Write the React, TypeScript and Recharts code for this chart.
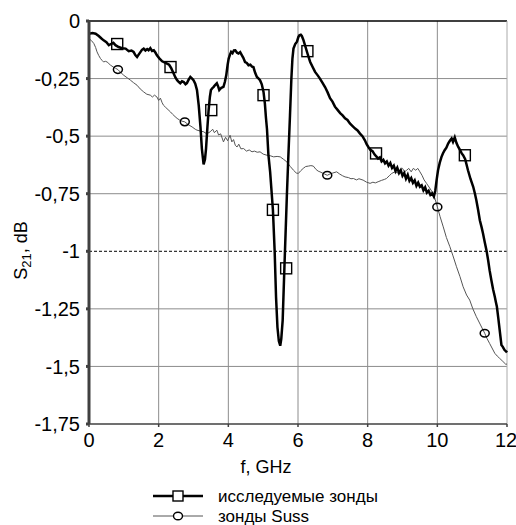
import React from 'react';
import { ComposedChart, Line, Scatter, XAxis, YAxis, ReferenceLine, Legend } from 'recharts';

// thick curve — исследуемые зонды
const freqA = [
  0.0, 0.1, 0.19, 0.28, 0.35, 0.42, 0.5, 0.57, 0.63, 0.7, 0.76, 0.85, 0.95, 1.05, 1.14, 1.22, 1.28, 1.33, 1.38, 1.43,
  1.48, 1.52, 1.57, 1.62, 1.67, 1.71, 1.76, 1.81, 1.86, 1.91, 1.95, 2.02, 2.1, 2.17, 2.24, 2.3, 2.36, 2.43, 2.48, 2.53,
  2.58, 2.62, 2.67, 2.72, 2.77, 2.81, 2.86, 2.91, 2.96, 3.0, 3.05, 3.1, 3.15, 3.2, 3.24, 3.29, 3.33, 3.36, 3.4, 3.43,
  3.47, 3.5, 3.55, 3.58, 3.62, 3.67, 3.71, 3.74, 3.8, 3.86, 3.9, 3.94, 3.98, 4.01, 4.05, 4.08, 4.12, 4.16, 4.2, 4.25,
  4.29, 4.34, 4.39, 4.43, 4.48, 4.53, 4.58, 4.63, 4.68, 4.72, 4.77, 4.82, 4.87, 4.91, 4.96, 5.01, 5.05, 5.08, 5.11, 5.15,
  5.2, 5.28, 5.33, 5.37, 5.41, 5.45, 5.49, 5.52, 5.56, 5.61, 5.68, 5.72, 5.77, 5.81, 5.84, 5.87, 5.92, 5.97, 6.01, 6.04,
  6.08, 6.11, 6.15, 6.2, 6.27, 6.35, 6.42, 6.49, 6.56, 6.63, 6.7, 6.78, 6.85, 6.92, 6.99, 7.06, 7.13, 7.21, 7.28, 7.35,
  7.42, 7.49, 7.56, 7.64, 7.71, 7.78, 7.85, 7.92, 7.97, 8.02, 8.08, 8.14, 8.2, 8.26, 8.3, 8.35, 8.4, 8.45, 8.5, 8.55,
  8.6, 8.65, 8.7, 8.75, 8.8, 8.85, 8.9, 8.95, 9.0, 9.05, 9.1, 9.15, 9.2, 9.25, 9.3, 9.35, 9.4, 9.45, 9.5, 9.55,
  9.6, 9.65, 9.7, 9.75, 9.8, 9.85, 9.9, 9.94, 9.98, 10.02, 10.07, 10.12, 10.16, 10.21, 10.26, 10.31, 10.36, 10.41, 10.45, 10.5,
  10.55, 10.6, 10.65, 10.7, 10.74, 10.8, 10.88, 10.95, 11.03, 11.08, 11.12, 11.17, 11.22, 11.27, 11.31, 11.36, 11.41, 11.46, 11.5, 11.55,
  11.6, 11.65, 11.68, 11.71, 11.75, 11.79, 11.84, 11.88, 11.93, 11.98, 12.0,
];
const s21A = [
  -0.055, -0.052, -0.055, -0.065, -0.075, -0.084, -0.092, -0.105, -0.1, -0.095, -0.105, -0.113, -0.118, -0.12, -0.131, -0.128, -0.134, -0.148, -0.156, -0.145,
  -0.134, -0.125, -0.12, -0.128, -0.122, -0.127, -0.118, -0.13, -0.127, -0.138, -0.149, -0.162, -0.175, -0.18, -0.185, -0.19, -0.205, -0.228, -0.245, -0.257,
  -0.265, -0.27, -0.262, -0.265, -0.275, -0.27, -0.255, -0.243, -0.25, -0.257, -0.272, -0.3, -0.366, -0.46, -0.554, -0.623, -0.6, -0.554, -0.46, -0.395,
  -0.33, -0.3, -0.29, -0.286, -0.278, -0.27, -0.285, -0.3, -0.29, -0.286, -0.265, -0.236, -0.19, -0.163, -0.145, -0.134, -0.14, -0.128, -0.127, -0.138,
  -0.141, -0.135, -0.149, -0.16, -0.178, -0.182, -0.192, -0.19, -0.198, -0.2, -0.225, -0.243, -0.25, -0.257, -0.275, -0.308, -0.36, -0.42, -0.47, -0.58,
  -0.655, -0.82, -1.0, -1.2, -1.33, -1.39, -1.41, -1.38, -1.3, -1.07, -0.76, -0.6, -0.41, -0.25, -0.163, -0.12, -0.1, -0.09, -0.07, -0.062,
  -0.06, -0.065, -0.08, -0.105, -0.14, -0.178, -0.2, -0.221, -0.235, -0.25, -0.268, -0.288, -0.31, -0.335, -0.35, -0.372, -0.385, -0.4, -0.41, -0.423,
  -0.43, -0.445, -0.455, -0.467, -0.475, -0.489, -0.5, -0.518, -0.535, -0.547, -0.56, -0.565, -0.58, -0.59, -0.597, -0.592, -0.61, -0.603, -0.618, -0.61,
  -0.628, -0.617, -0.638, -0.628, -0.652, -0.637, -0.66, -0.648, -0.672, -0.66, -0.685, -0.668, -0.694, -0.682, -0.703, -0.692, -0.716, -0.702, -0.72, -0.714,
  -0.735, -0.722, -0.745, -0.737, -0.755, -0.748, -0.762, -0.738, -0.69, -0.648, -0.615, -0.59, -0.575, -0.561, -0.55, -0.532, -0.52, -0.51, -0.525, -0.505,
  -0.53, -0.547, -0.56, -0.575, -0.583, -0.6, -0.648, -0.685, -0.72, -0.75, -0.778, -0.82, -0.865, -0.895, -0.922, -0.96, -0.995, -1.04, -1.082, -1.125,
  -1.165, -1.197, -1.22, -1.241, -1.29, -1.342, -1.407, -1.415, -1.429, -1.436, -1.44,
];

// thin curve — зонды Suss
const freqB = [
  0.0, 0.07, 0.14, 0.19, 0.23, 0.28, 0.33, 0.38, 0.42, 0.47, 0.52, 0.57, 0.62, 0.7, 0.76, 0.83, 0.9, 1.0, 1.1, 1.19,
  1.28, 1.38, 1.47, 1.57, 1.66, 1.76, 1.82, 1.88, 1.95, 2.0, 2.05, 2.1, 2.14, 2.2, 2.27, 2.34, 2.4, 2.47, 2.53, 2.6,
  2.67, 2.75, 2.85, 2.96, 3.05, 3.1, 3.2, 3.29, 3.38, 3.48, 3.55, 3.6, 3.67, 3.72, 3.78, 3.86, 3.92, 3.98, 4.05, 4.1,
  4.15, 4.2, 4.25, 4.3, 4.36, 4.44, 4.52, 4.6, 4.68, 4.75, 4.83, 4.91, 5.0, 5.11, 5.2, 5.3, 5.4, 5.49, 5.58, 5.68,
  5.78, 5.87, 5.95, 6.01, 6.08, 6.15, 6.22, 6.3, 6.37, 6.44, 6.52, 6.58, 6.63, 6.7, 6.77, 6.84, 6.92, 7.0, 7.11, 7.2,
  7.28, 7.35, 7.45, 7.52, 7.59, 7.68, 7.75, 7.87, 7.97, 8.07, 8.15, 8.22, 8.3, 8.4, 8.48, 8.54, 8.62, 8.69, 8.78, 8.85,
  8.93, 9.0, 9.06, 9.12, 9.18, 9.25, 9.31, 9.38, 9.44, 9.5, 9.56, 9.62, 9.69, 9.78, 9.88, 9.94, 10.0, 10.08, 10.17, 10.26,
  10.36, 10.45, 10.55, 10.65, 10.74, 10.84, 10.93, 11.02, 11.12, 11.24, 11.36, 11.43, 11.5, 11.57, 11.65, 11.72, 11.79, 11.88, 11.96, 12.0,
];
const s21B = [
  -0.077, -0.085, -0.098, -0.115, -0.134, -0.15, -0.163, -0.172, -0.178, -0.175, -0.178, -0.185, -0.192, -0.2, -0.205, -0.211, -0.222, -0.236, -0.247, -0.257,
  -0.268, -0.279, -0.295, -0.308, -0.318, -0.322, -0.33, -0.322, -0.33, -0.345, -0.335, -0.355, -0.366, -0.375, -0.385, -0.395, -0.405, -0.415, -0.423, -0.43,
  -0.435, -0.438, -0.45, -0.46, -0.47, -0.474, -0.478, -0.481, -0.49, -0.481, -0.47, -0.485, -0.474, -0.495, -0.49, -0.525, -0.505, -0.52, -0.496, -0.525,
  -0.515, -0.54, -0.547, -0.535, -0.555, -0.554, -0.565, -0.56, -0.568, -0.565, -0.57, -0.568, -0.578, -0.583, -0.585, -0.59, -0.588, -0.59, -0.6, -0.612,
  -0.632, -0.648, -0.66, -0.662, -0.65, -0.64, -0.632, -0.63, -0.628, -0.63, -0.645, -0.652, -0.655, -0.66, -0.665, -0.67, -0.664, -0.66, -0.655, -0.665,
  -0.672, -0.677, -0.68, -0.685, -0.684, -0.69, -0.685, -0.691, -0.7, -0.705, -0.7, -0.703, -0.698, -0.692, -0.688, -0.684, -0.672, -0.662, -0.655, -0.66,
  -0.648, -0.64, -0.655, -0.648, -0.64, -0.655, -0.64, -0.648, -0.64, -0.655, -0.67, -0.69, -0.705, -0.725, -0.749, -0.775, -0.807, -0.85, -0.894, -0.94,
  -0.98, -1.02, -1.067, -1.11, -1.154, -1.19, -1.212, -1.25, -1.284, -1.32, -1.356, -1.38, -1.4, -1.42, -1.443, -1.455, -1.465, -1.478, -1.49, -1.49,
];

// marker positions
const squareF = [0.81, 2.34, 3.51, 5.01, 5.28, 5.66, 6.27, 8.24, 10.79];
const squareV = [-0.1, -0.2, -0.387, -0.322, -0.82, -1.074, -0.131, -0.575, -0.583];
const circleF = [0.83, 2.75, 6.84, 10.0, 11.36];
const circleV = [-0.211, -0.438, -0.67, -0.808, -1.356];

const xTicks = [0, 2, 4, 6, 8, 10, 12];
const yTicks = [0, -0.25, -0.5, -0.75, -1, -1.25, -1.5, -1.75];
const gridX = [2, 4, 6, 8, 10];
const gridY = [-0.25, -0.5, -0.75, -1.25, -1.5];

const seriesA = freqA.map((f, i) => ({ f, v: s21A[i] }));
const seriesB = freqB.map((f, i) => ({ f, v: s21B[i] }));
const squares = squareF.map((f, i) => ({ f, v: squareV[i] }));
const circles = circleF.map((f, i) => ({ f, v: circleV[i] }));

const FONT = 'Arial, "Liberation Sans", sans-serif';

const SquareMark = (props: any) => (
  <rect x={props.cx - 5.5} y={props.cy - 5.5} width={11} height={11} fill="none" stroke="#000" strokeWidth={1.4} />
);
const CircleMark = (props: any) => (
  <ellipse cx={props.cx} cy={props.cy} rx={4.5} ry={3.8} fill="none" stroke="#000" strokeWidth={1.5} />
);

const LegendBox = () => (
  <svg width={260} height={42} style={{ fontFamily: FONT }}>
    <line x1={3} x2={53} y1={10} y2={10} stroke="#000" strokeWidth={2.5} />
    <rect x={23} y={5} width={10} height={10} fill="#fff" stroke="#000" strokeWidth={1.4} />
    <text x={68} y={16} fontSize={17} fill="#000">исследуемые зонды</text>
    <line x1={3} x2={53} y1={30} y2={30} stroke="#555" strokeWidth={1} />
    <ellipse cx={28} cy={30} rx={4.5} ry={3.8} fill="#fff" stroke="#000" strokeWidth={1.4} />
    <text x={68} y={36} fontSize={17} fill="#000">зонды Suss</text>
  </svg>
);

const YLabel = (props: any) => {
  const vb = props.viewBox;
  const cx = 27;
  const cy = vb.y + vb.height / 2 + 28;
  return (
    <text transform={`translate(${cx},${cy}) rotate(-90)`} textAnchor="middle" fontSize={18} fontFamily={FONT} fill="#000">
      S<tspan fontSize={13} dy={4}>21</tspan><tspan dy={-4}>, dB</tspan>
    </text>
  );
};

const XLabel = (props: any) => {
  const vb = props.viewBox;
  return (
    <text x={vb.x + vb.width / 2 - 32} y={vb.y + 49} textAnchor="middle" fontSize={18} fontFamily={FONT} fill="#000">
      f, GHz
    </text>
  );
};

const fmt = (v: number) => String(v).replace('.', ',');

export default function App() {
  return (
    <div style={{ position: 'absolute', left: 0, top: 0, width: 516, height: 525, background: '#fff', fontFamily: FONT }}>
      <ComposedChart width={516} height={525} margin={{ top: 21, right: 9, bottom: 0, left: 0 }}>
        <XAxis
          dataKey="f"
          type="number"
          domain={[0, 12]}
          ticks={xTicks}
          tickFormatter={fmt}
          height={101}
          stroke="#404040"
          strokeWidth={1.5}
          tickSize={3}
          tickMargin={6}
          tick={{ fill: '#000', fontSize: 20, fontFamily: FONT }}
          label={<XLabel />}
        />
        <YAxis
          dataKey="v"
          type="number"
          domain={[-1.75, 0]}
          ticks={yTicks}
          tickFormatter={fmt}
          width={89}
          stroke="#404040"
          strokeWidth={3}
          tickSize={3}
          tickMargin={6}
          tick={{ fill: '#000', fontSize: 20, fontFamily: FONT }}
          label={<YLabel />}
        />
        {gridX.map(x => (
          <ReferenceLine key={`gx${x}`} x={x} stroke="#8c8c8c" strokeWidth={1} />
        ))}
        {gridY.map(y => (
          <ReferenceLine key={`gy${y}`} y={y} stroke="#8c8c8c" strokeWidth={1} />
        ))}
        <ReferenceLine y={-1} stroke="#000" strokeWidth={1} strokeDasharray="3 2" />
        <ReferenceLine y={0} stroke="#000" strokeWidth={1.5} />
        <ReferenceLine x={12} stroke="#aaa" strokeWidth={1} />
        <Line data={seriesB} dataKey="v" type="linear" stroke="#555" strokeWidth={1} dot={false} isAnimationActive={false} />
        <Line data={seriesA} dataKey="v" type="linear" stroke="#000" strokeWidth={2.5} dot={false} isAnimationActive={false} />
        <Scatter data={squares} dataKey="v" shape={SquareMark} isAnimationActive={false} />
        <Scatter data={circles} dataKey="v" shape={CircleMark} isAnimationActive={false} />
        <Legend
          layout="horizontal"
          verticalAlign="middle"
          align="center"
          content={() => <LegendBox />}
          wrapperStyle={{ left: 150, top: 486, width: 260, height: 42 }}
        />
      </ComposedChart>
    </div>
  );
}
